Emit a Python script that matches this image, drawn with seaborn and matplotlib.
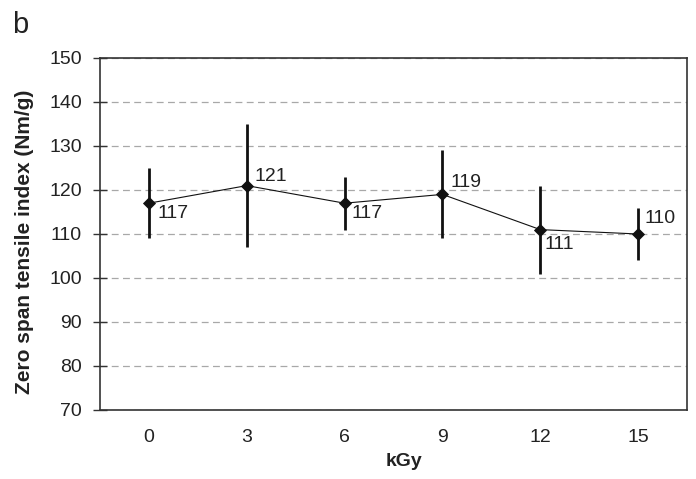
import matplotlib
matplotlib.use("Agg")
import matplotlib.pyplot as plt
import seaborn as sns
import pandas as pd

# Zero span tensile index vs. irradiation dose
doses = ["0", "3", "6", "9", "12", "15"]
means = [117, 121, 117, 119, 111, 110]
err_low = [109, 107, 111, 109, 101, 104]
err_high = [125, 135, 123, 129, 121, 116]

# label offsets (points, to the text baseline) for the value annotations
label_offsets = [(6.5, -10.5), (5.5, 3), (5.2, -10.6), (5.5, 5.5), (3, -13.9), (4.5, 7.7)]

sns.set_theme(style="white")
plt.rcParams["font.family"] = ["Liberation Sans", "DejaVu Sans"]

df = pd.DataFrame({"kGy": doses, "index": means})

fig = plt.figure(figsize=(6.96, 4.79), dpi=100)
ax = fig.add_axes([100 / 696, 1 - 410 / 479, 587 / 696, 352 / 479])

ax.set_axisbelow(True)
ax.yaxis.grid(True, linestyle=(0, (5.5, 3.5)), color="#a8a8a8", linewidth=0.9)

sns.pointplot(data=df, x="kGy", y="index", ax=ax, color="#111111",
              markers="D", markersize=5.8, linewidth=0.8, errorbar=None)

pos = list(range(len(doses)))
ax.vlines(pos, err_low, err_high, color="#111111", linewidth=2.0, zorder=3)

for p, m, (dx, dy) in zip(pos, means, label_offsets):
    ax.annotate(str(m), (p, m), xytext=(dx, dy), textcoords="offset points",
                ha="left", va="baseline", fontsize=14, color="#222222")

ax.set_ylim(70, 150)
ax.set_yticks(range(70, 151, 10))
ax.set_xlim(-0.5, len(doses) - 0.5)

for s in ax.spines.values():
    s.set_color("#333333")
    s.set_linewidth(1.2)

ax.tick_params(axis="y", left=True, direction="inout", length=10, width=1,
               color="#333333", labelsize=14, labelcolor="#222222", pad=8)
ax.tick_params(axis="x", bottom=False, length=0, labelsize=14,
               labelcolor="#222222", pad=14)

ax.set_xlabel("kGy", fontsize=14, fontweight="bold", labelpad=5, color="#222222")
ax.set_ylabel("Zero span tensile index (Nm/g)", fontsize=15, fontweight="bold",
              labelpad=11, color="#222222")
ax.xaxis.label.set_x(0.518)
ax.yaxis.label.set_y(0.477)

fig.text(0.017, 1 - 33 / 479, "b", fontsize=21, color="#222222", va="baseline")

fig.savefig("out.png", dpi=100)
